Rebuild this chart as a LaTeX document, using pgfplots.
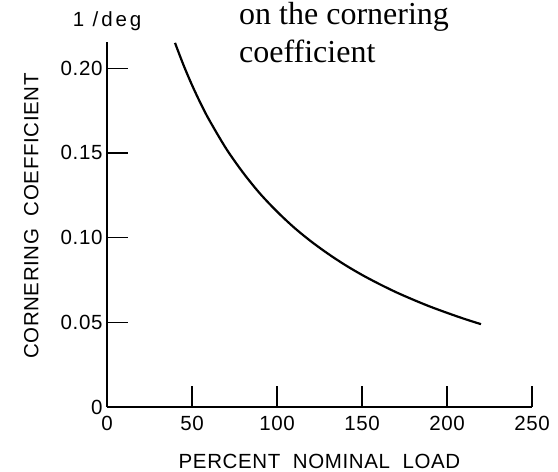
\documentclass[border=0pt]{standalone}
\usepackage{fontspec}
\setmainfont{Liberation Sans}
\newfontfamily\lblfont[LetterSpace=3]{Liberation Sans}
\newfontfamily\unitfont[LetterSpace=14]{Liberation Sans}
\newfontfamily\notefont{Liberation Serif}
\usepackage{pgfplots}
\pgfplotsset{compat=1.18}

\newcommand{\lbl}{\lblfont\fontsize{20.5}{24}\selectfont}
\newcommand{\tck}{\lblfont\fontsize{20.5}{24}\selectfont}

\begin{document}
\begin{tikzpicture}
\path[use as bounding box] (-107pt,-65pt) rectangle (451pt,407pt);
\begin{axis}[
    at={(0pt,0pt)}, anchor=south west,
    scale only axis,
    width=425pt, height=365pt,
    xmin=0, xmax=250,
    ymin=0, ymax=0.2155,
    axis x line*=bottom,
    axis y line*=left,
    axis line style={line width=1.6pt},
    tick align=inside,
    major tick length=21pt,
    every tick/.style={line width=1.4pt, black},
    xtick={0,50,100,150,200,250},
    xticklabels={0,50,100,150,200,250},
    ytick={0,0.05,0.10,0.15,0.20},
    yticklabels={0,0.05,0.10,0.15,0.20},
    tick label style={font=\tck},
    xticklabel style={yshift=-6pt},
    yticklabel style={xshift=-1pt},
    xlabel={PERCENT\ \ NOMINAL\ \ LOAD},
    ylabel={CORNERING\ \ COEFFICIENT},
    label style={font=\lbl},
    xlabel style={at={(rel axis cs:0.5,0)}, anchor=base, yshift=-61pt},
    ylabel style={at={(axis description cs:-0.178,0.523)}, anchor=center, rotate=0},
    clip=false,
]
\addplot[smooth, line width=2.2pt, black] coordinates {
    (40,0.2150) (45,0.2019) (50,0.1901) (55,0.1794) (60,0.1697)
    (70,0.1527) (80,0.1384) (90,0.1260) (100,0.1154) (110,0.1060)
    (120,0.0978) (130,0.0905) (140,0.0839) (150,0.0780) (160,0.0727)
    (170,0.0678) (180,0.0634) (190,0.0593) (200,0.0556) (210,0.0521)
    (220,0.0489)
};
\end{axis}
\node[font=\unitfont\fontsize{20.5}{24}\selectfont, anchor=base] at (0pt,380pt) {1 /deg};
\node[font=\notefont\fontsize{32}{36}\selectfont, anchor=base west, inner sep=0pt] at (132pt,382pt) {on the cornering};
\node[font=\notefont\fontsize{32}{36}\selectfont, anchor=base west, inner sep=0pt] at (132pt,344pt) {coefficient};
\end{tikzpicture}
\end{document}
